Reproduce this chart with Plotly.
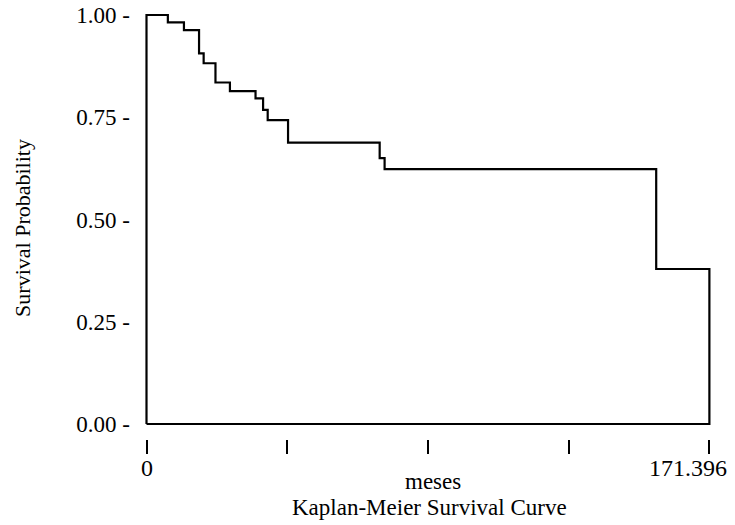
import plotly.graph_objects as go

# Kaplan-Meier step data (time in months, survival probability)
times = [6.5, 11.4, 16.0, 17.4, 21.0, 25.4, 33.2, 35.5, 36.9, 43.1, 71.0, 72.5, 155.2]
surv = [0.982, 0.963, 0.906, 0.882, 0.835, 0.814, 0.796, 0.768, 0.743, 0.688, 0.650, 0.623, 0.379]
t_max = 171.396

x_ticks = [0, 42.849, 85.698, 128.547, 171.396]
y_ticks = [0.0, 0.25, 0.5, 0.75, 1.0]
y_tick_text = ["0.00 -", "0.25 -", "0.50 -", "0.75 -", "1.00 -"]

FONT = "Liberation Serif"

# closed outline: left edge, steps, final drop, back along the bottom
xs = [0, 0] + times + [t_max, 0]
ys = [0, 1.0] + surv + [0, 0]

fig = go.Figure()
fig.add_trace(go.Scatter(
    x=xs, y=ys, mode="lines", line=dict(color="black", width=2.2, shape="hv"),
    hoverinfo="skip", showlegend=False))

fig.update_layout(
    width=735, height=525,
    margin=dict(l=132, r=27, t=0, b=94, pad=0),
    paper_bgcolor="white", plot_bgcolor="white",
    font=dict(family=FONT, size=23, color="black"),
    xaxis=dict(range=[-1.98, 173.41], showgrid=False, zeroline=False, showline=False,
               anchor="free", position=0, automargin=False,
               tickvals=x_ticks, ticks="outside", ticklen=14, tickwidth=1.5,
               tickcolor="black", showticklabels=False),
    yaxis=dict(range=[-0.01711, 1.01711], domain=[0.01856, 1], showgrid=False, zeroline=False,
               showline=False, tickvals=y_ticks, ticktext=y_tick_text, ticks="",
               automargin=False, ticklabeloverflow="allow",
               ticklabelstandoff=9, tickfont=dict(family=FONT, size=23)),
    annotations=[
        dict(text="0", x=0, xref="x", y=-0.0673, yref="paper", showarrow=False,
             xanchor="center", yanchor="middle", font=dict(size=24)),
        dict(text="171.396", x=t_max, xref="x", y=-0.0673, yref="paper", showarrow=False,
             xanchor="center", yanchor="middle", xshift=-21, font=dict(size=24)),
        dict(text="meses", x=0.5, xref="paper", y=-0.099, yref="paper", showarrow=False,
             xanchor="center", yanchor="middle", xshift=5, font=dict(size=23)),
        dict(text="Kaplan-Meier Survival Curve", x=0.5, xref="paper", y=-0.16, yref="paper",
             showarrow=False, xanchor="center", yanchor="middle", xshift=1, font=dict(size=23)),
        dict(text="Survival Probability", x=-0.203, xref="paper", y=0.49, yref="paper",
             showarrow=False, textangle=-90, xanchor="center", yanchor="middle",
             font=dict(size=22)),
    ],
)

fig.write_html("out.html")
